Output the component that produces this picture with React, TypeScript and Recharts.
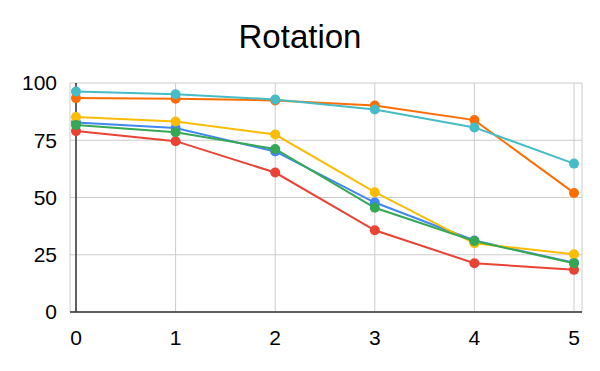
import React from "react";
import {
  LineChart,
  Line,
  XAxis,
  YAxis,
  CartesianGrid,
  ReferenceLine,
} from "recharts";

const steps = [0, 1, 2, 3, 4, 5];
const blueValues = [82.7, 80.3, 70.1, 47.8, 31.2, 21.5];
const redValues = [79.0, 74.6, 60.9, 35.7, 21.3, 18.4];
const yellowValues = [85.1, 83.2, 77.5, 52.3, 30.0, 25.2];
const greenValues = [81.7, 78.5, 71.2, 45.5, 31.0, 21.3];
const orangeValues = [93.4, 93.1, 92.4, 90.2, 83.8, 52.0];
const cyanValues = [96.3, 95.1, 92.8, 88.4, 80.6, 64.8];
const yTicks = [0, 25, 50, 75, 100];

const SERIES = [
  { key: "blue", values: blueValues, color: "#4285F4" },
  { key: "red", values: redValues, color: "#EA4335" },
  { key: "yellow", values: yellowValues, color: "#FBBC04" },
  { key: "green", values: greenValues, color: "#34A853" },
  { key: "orange", values: orangeValues, color: "#FF6D01" },
  { key: "cyan", values: cyanValues, color: "#46BDC6" },
];

const data = steps.map((x, i) => {
  const row: Record<string, number> = { x };
  SERIES.forEach((s) => {
    row[s.key] = s.values[i];
  });
  return row;
});

const FONT = "Arial, 'Liberation Sans', sans-serif";

export default function App() {
  return (
    <div style={{ position: "relative", width: 600, height: 371, background: "#fff" }}>
      <style>{"body{margin:0}"}</style>
      <div
        style={{
          position: "absolute",
          top: 17,
          left: 0,
          width: 600,
          textAlign: "center",
          fontFamily: FONT,
          fontSize: 33,
          color: "#000",
          lineHeight: "40px",
        }}
      >
        Rotation
      </div>
      <LineChart
        width={600}
        height={371}
        data={data}
        margin={{ top: 83, right: 18, bottom: 29, left: 10 }}
      >
        <CartesianGrid stroke="#cccccc" strokeWidth={1} />
        <XAxis
          dataKey="x"
          type="number"
          domain={[0, 5]}
          ticks={steps}
          padding={{ left: 6, right: 8 }}
          height={30}
          tickSize={0}
          tickMargin={18}
          axisLine={{ stroke: "#333333", strokeWidth: 1.5 }}
          tick={{ fill: "#000", fontSize: 21, fontFamily: FONT }}
        />
        <YAxis
          type="number"
          domain={[0, 100]}
          ticks={yTicks}
          width={60}
          tickSize={0}
          tickMargin={13}
          axisLine={false}
          tick={{ fill: "#000", fontSize: 21, fontFamily: FONT }}
        />
        <ReferenceLine x={0} stroke="#333333" strokeWidth={1.5} />
        {SERIES.map((s) => (
          <Line
            key={s.key}
            dataKey={s.key}
            stroke={s.color}
            strokeWidth={2}
            dot={{ r: 5, fill: s.color, stroke: "none" }}
            activeDot={false}
            isAnimationActive={false}
          />
        ))}
      </LineChart>
    </div>
  );
}
